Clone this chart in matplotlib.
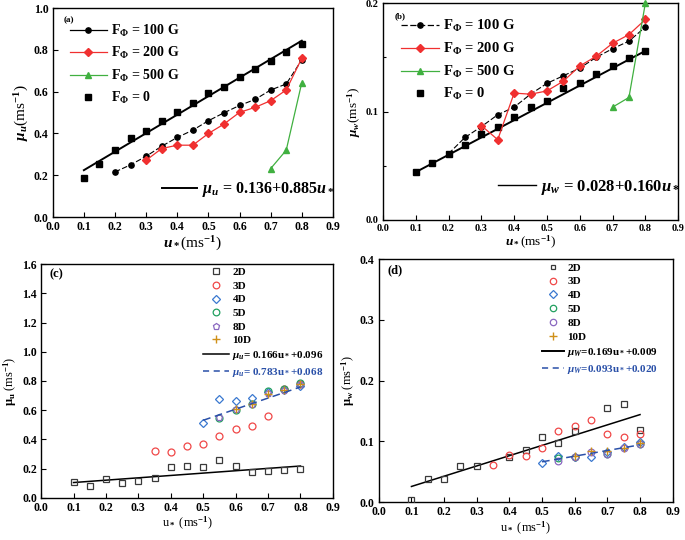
import matplotlib
matplotlib.use('Agg')
import matplotlib.pyplot as plt
from matplotlib.lines import Line2D
from matplotlib.ticker import FormatStrFormatter, MultipleLocator
import numpy as np

plt.rcParams['font.family'] = ['Liberation Serif', 'DejaVu Serif']
plt.rcParams['font.weight'] = 'bold'
plt.rcParams['mathtext.fontset'] = 'custom'
plt.rcParams['mathtext.rm'] = 'Liberation Serif:bold'
plt.rcParams['mathtext.it'] = 'Liberation Serif:italic:bold'
plt.rcParams['mathtext.bf'] = 'Liberation Serif:bold'
plt.rcParams['xtick.direction'] = 'in'
plt.rcParams['ytick.direction'] = 'in'
plt.rcParams['axes.linewidth'] = 1.0

# ---------------- data ----------------
u_all = [0.1, 0.15, 0.2, 0.25, 0.3, 0.35, 0.4, 0.45, 0.5, 0.55, 0.6, 0.65, 0.7, 0.75, 0.8]
u_from02 = [0.2, 0.25, 0.3, 0.35, 0.4, 0.45, 0.5, 0.55, 0.6, 0.65, 0.7, 0.75, 0.8]
u_from03 = [0.3, 0.35, 0.4, 0.45, 0.5, 0.55, 0.6, 0.65, 0.7, 0.75, 0.8]
u_500 = [0.7, 0.75, 0.8]

# panel (a): mu_u
a_f0 = [0.187, 0.256, 0.32, 0.379, 0.411, 0.461, 0.504, 0.544, 0.592, 0.624, 0.669, 0.709, 0.747, 0.789, 0.827]
a_100 = [0.216, 0.25, 0.291, 0.339, 0.381, 0.416, 0.461, 0.499, 0.534, 0.563, 0.608, 0.637, 0.752]
a_200 = [0.272, 0.328, 0.344, 0.344, 0.4, 0.445, 0.501, 0.525, 0.557, 0.608, 0.76]
a_500 = [0.232, 0.32, 0.643]
a_fit = (0.136, 0.885)

# panel (b): mu_w
b_f0 = [0.044, 0.052, 0.061, 0.069, 0.079, 0.086, 0.095, 0.104, 0.110, 0.122, 0.126, 0.135, 0.142, 0.149, 0.156]
b_100 = [0.061, 0.076, 0.086, 0.097, 0.104, 0.116, 0.126, 0.133, 0.140, 0.150, 0.158, 0.165, 0.178]
b_200 = [0.087, 0.074, 0.117, 0.116, 0.119, 0.128, 0.142, 0.151, 0.163, 0.171, 0.185]
b_500 = [0.104, 0.113, 0.2]
b_fit = (0.028, 0.160)

# panel (c): mu_u vs height
c_2D_x = u_all
c_2D = [0.106, 0.081, 0.127, 0.099, 0.118, 0.136, 0.209, 0.218, 0.213, 0.258, 0.218, 0.174, 0.184, 0.19, 0.197]
c_3D_x = [0.35, 0.4, 0.45, 0.5, 0.55, 0.6, 0.65, 0.7, 0.75, 0.8]
c_3D = [0.322, 0.313, 0.354, 0.372, 0.424, 0.47, 0.49, 0.559, 0.747, 0.781]
c_4D_x = [0.5, 0.55, 0.6, 0.65, 0.7, 0.75, 0.8]
c_4D = [0.513, 0.679, 0.663, 0.686, 0.724, 0.74, 0.763]
c_5D_x = [0.55, 0.6, 0.65, 0.7, 0.75, 0.8]
c_5D = [0.549, 0.604, 0.64, 0.731, 0.747, 0.786]
c_8D_x = [0.55, 0.6, 0.65, 0.7, 0.75, 0.8]
c_8D = [0.554, 0.606, 0.64, 0.718, 0.74, 0.777]
c_10D_x = [0.6, 0.65, 0.7, 0.75, 0.8]
c_10D = [0.606, 0.645, 0.713, 0.736, 0.777]
c_line1_x = [0.1, 0.8]
c_line1_y = [0.105, 0.218]
c_line2_x = [0.5, 0.8]
c_line2_y = [0.531, 0.759]

# panel (d): mu_w vs height
d_2D_x = [0.1, 0.15, 0.2, 0.25, 0.3, 0.4, 0.45, 0.5, 0.55, 0.6, 0.7, 0.75, 0.8]
d_2D = [0.004, 0.039, 0.0385, 0.06, 0.06, 0.074, 0.086, 0.107, 0.098, 0.117, 0.155, 0.162, 0.1195]
d_3D_x = [0.35, 0.4, 0.45, 0.5, 0.55, 0.6, 0.65, 0.7, 0.75, 0.8]
d_3D = [0.0615, 0.077, 0.0765, 0.089, 0.118, 0.125, 0.136, 0.112, 0.108, 0.113]
d_4D_x = [0.5, 0.55, 0.6, 0.65, 0.7, 0.75, 0.8]
d_4D = [0.065, 0.0765, 0.075, 0.074, 0.082, 0.0905, 0.099]
d_5D_x = [0.55, 0.6, 0.7, 0.8]
d_5D = [0.0726, 0.075, 0.080, 0.095]
d_8D_x = [0.55, 0.6, 0.65, 0.7, 0.75, 0.8]
d_8D = [0.068, 0.074, 0.082, 0.079, 0.089, 0.096]
d_10D_x = [0.6, 0.65, 0.7, 0.75, 0.8]
d_10D = [0.0765, 0.084, 0.084, 0.089, 0.097]
d_fit1 = (0.169, 0.009)
d_fit2 = (0.093, 0.020)

x_ticks = [0.0, 0.1, 0.2, 0.3, 0.4, 0.5, 0.6, 0.7, 0.8, 0.9]

C_RED = '#f03030'
C_GREEN = '#40b040'
H_COLS = {'2D': '#3a3a3a', '3D': '#f04848', '4D': '#3a78d0', '5D': '#22a060',
          '8D': '#8a68c0', '10D': '#d09018'}
C_FITBLUE = '#2a50a8'

fig = plt.figure(figsize=(6.85, 5.4), dpi=100)
axA = fig.add_axes([0.077, 0.598, 0.409, 0.387])
axB = fig.add_axes([0.559, 0.593, 0.431, 0.401])
axC = fig.add_axes([0.060, 0.078, 0.426, 0.433])
axD = fig.add_axes([0.553, 0.070, 0.429, 0.450])


def style(ax, ylim, ystep, ylabel, xlabel, tfs=8.5, lfs=10, yminor=None):
    ax.set_xlim(0, 0.9)
    ax.set_ylim(*ylim)
    ax.set_xticks(x_ticks)
    ax.yaxis.set_major_locator(MultipleLocator(ystep))
    if yminor:
        ax.yaxis.set_minor_locator(MultipleLocator(yminor))
        ax.tick_params(axis='y', which='minor', direction='in', length=2.5, width=0.8)
    ax.xaxis.set_major_formatter(FormatStrFormatter('%.1f'))
    ax.yaxis.set_major_formatter(FormatStrFormatter('%.1f'))
    ax.tick_params(axis='x', which='major', length=3.5, width=0.8, labelsize=tfs, pad=3)
    ax.tick_params(axis='y', which='major', length=3.5, width=0.8, labelsize=tfs, pad=3)
    for lab in ax.get_xticklabels() + ax.get_yticklabels():
        lab.set_fontweight('bold')
    ax.set_ylabel(ylabel, fontsize=lfs, labelpad=2)
    ax.set_xlabel(xlabel, fontsize=lfs, labelpad=1)


# ---------------- (a) ----------------
ua = np.array(u_all)
axA.plot(ua, a_fit[0] + a_fit[1] * ua, color='black', lw=1.4, zorder=2)
axA.plot(u_all, a_f0, 's', color='black', ms=4.5, zorder=3)
axA.plot(u_from02, a_100, '--', color='black', marker='o', ms=3.8, lw=0.8, dashes=(5, 2), zorder=4)
axA.plot(u_from03, a_200, '-', color=C_RED, marker='D', ms=3.8, lw=0.9, zorder=4)
axA.plot(u_500, a_500, '-', color=C_GREEN, marker='^', ms=4.5, lw=0.9, zorder=4)
style(axA, (0, 1.0), 0.2, r'$\mu_u$(ms$^{-1}$)', r'$u_*$(ms$^{-1}$)', tfs=8.5, lfs=11)
axA.text(0.04, 0.94, '(a)', transform=axA.transAxes, fontsize=6.5, fontweight='bold', va='center')

hA = [Line2D([], [], color='black', marker='o', ms=3.8, lw=0.9),
      Line2D([], [], color=C_RED, marker='D', ms=3.8, lw=0.9),
      Line2D([], [], color=C_GREEN, marker='^', ms=4.5, lw=0.9),
      Line2D([], [], color='black', marker='s', ms=4.5, lw=0)]
labsA = [r'F$_\mathbf{\Phi}$ = 100 G', r'F$_\mathbf{\Phi}$ = 200 G', r'F$_\mathbf{\Phi}$ = 500 G', r'F$_\mathbf{\Phi}$ = 0']
legA = axA.legend(hA, labsA, loc='upper left', bbox_to_anchor=(0.06, 0.93), frameon=False,
                  fontsize=10, handlelength=2.7, handletextpad=0.3, labelspacing=0.45,
                  borderpad=0, borderaxespad=0)
axA.add_artist(legA)
legA2 = axA.legend([Line2D([], [], color='black', lw=1.4)], [r'$\mu_u$ = 0.136+0.885$u_*$'],
                   loc='center left', bbox_to_anchor=(0.39, 0.13), frameon=False, fontsize=11.5,
                   handlelength=2.2, handletextpad=0.3, borderpad=0, borderaxespad=0)

# ---------------- (b) ----------------
axB.plot(ua, b_fit[0] + b_fit[1] * ua, color='black', lw=1.4, zorder=2)
axB.plot(u_all, b_f0, 's', color='black', ms=4.5, zorder=3)
axB.plot(u_from02, b_100, '--', color='black', marker='o', ms=3.8, lw=0.8, dashes=(5, 2), zorder=4)
axB.plot(u_from03, b_200, '-', color=C_RED, marker='D', ms=3.8, lw=0.9, zorder=4)
axB.plot(u_500, b_500, '-', color=C_GREEN, marker='^', ms=4.5, lw=0.9, zorder=4, clip_on=False)
style(axB, (0, 0.2), 0.1, r'$\mu_w$(ms$^{-1}$)', r'$u_*$(ms$^{-1}$)', tfs=7.5, lfs=9.5, yminor=0.05)
axB.text(0.04, 0.94, '(b)', transform=axB.transAxes, fontsize=6.5, fontweight='bold', va='center')
hB = [Line2D([], [], color='black', marker='o', ms=3.8, lw=0.9, ls='--', dashes=(5, 2)),
      Line2D([], [], color=C_RED, marker='D', ms=3.8, lw=0.9),
      Line2D([], [], color=C_GREEN, marker='^', ms=4.5, lw=0.9),
      Line2D([], [], color='black', marker='s', ms=4.5, lw=0)]
legB = axB.legend(hB, labsA, loc='upper left', bbox_to_anchor=(0.06, 0.93), frameon=False,
                  fontsize=10.5, handlelength=2.6, handletextpad=0.3, labelspacing=0.45,
                  borderpad=0, borderaxespad=0)
axB.add_artist(legB)
axB.legend([Line2D([], [], color='black', lw=1.0)], [r'$\mu_w$ = 0.028+0.160$u_*$'],
           loc='center left', bbox_to_anchor=(0.39, 0.15), frameon=False, fontsize=12,
           handlelength=2.3, handletextpad=0.3, borderpad=0, borderaxespad=0)


# ---------------- (c) & (d) ----------------
def height_series(ax, series, ms, lms):
    handles = []
    for name, xs, ys, mk, extra in series:
        col = H_COLS[name]
        if mk == '+':
            ax.plot(xs, ys, '+', color=col, ms=ms + 1, mew=1.0, zorder=4)
            handles.append(Line2D([], [], marker='+', color=col, ms=lms + 1, mew=1.0, lw=0))
        else:
            ax.plot(xs, ys, mk, mfc='none', mec=col, ms=ms * extra, mew=0.9, zorder=4)
            handles.append(Line2D([], [], marker=mk, mfc='none', mec=col, ms=lms * extra, mew=0.9, lw=0))
    return handles


seriesC = [('2D', c_2D_x, c_2D, 's', 0.85), ('3D', c_3D_x, c_3D, 'o', 1.0),
           ('4D', c_4D_x, c_4D, 'D', 0.9), ('5D', c_5D_x, c_5D, 'o', 1.0),
           ('8D', c_8D_x, c_8D, 'p', 1.0), ('10D', c_10D_x, c_10D, '+', 1.0)]
axC.plot(c_line1_x, c_line1_y, '-', color='black', lw=1.1, zorder=3)
axC.plot(c_line2_x, c_line2_y, '--', color=C_FITBLUE, lw=1.1, dashes=(5, 3), zorder=5)
hC = height_series(axC, seriesC, 5.0, 4.8)
style(axC, (0, 1.6), 0.2, r'$\mathbf{\mu_u}$ (ms$^{-1}$)', r'u$_*$ (ms$^{-1}$)', tfs=8.5, lfs=9)
axC.text(0.03, 0.955, '(c)', transform=axC.transAxes, fontsize=9, fontweight='bold', va='center')
hC += [Line2D([], [], color='black', lw=1.1), Line2D([], [], color=C_FITBLUE, lw=1.1, ls='--', dashes=(4, 3))]
labsC = ['2D', '3D', '4D', '5D', '8D', '10D', r'$\mu_u$= 0.166u$_*$+0.096', r'$\mu_u$= 0.783u$_*$+0.068']
legC = axC.legend(hC, labsC, loc='upper left', bbox_to_anchor=(0.555, 0.985), frameon=False,
                  fontsize=8, handlelength=2.3, handletextpad=0.35, labelspacing=0.34,
                  borderpad=0, borderaxespad=0)
legC.get_texts()[-1].set_color(C_FITBLUE)

seriesD = [('2D', d_2D_x, d_2D, 's', 0.85), ('3D', d_3D_x, d_3D, 'o', 1.0),
           ('4D', d_4D_x, d_4D, 'D', 0.9), ('5D', d_5D_x, d_5D, 'o', 1.0),
           ('8D', d_8D_x, d_8D, 'o', 1.0), ('10D', d_10D_x, d_10D, '+', 1.0)]
ud1 = np.array([0.1, 0.8])
ud2 = np.array([0.5, 0.8])
axD.plot(ud1, d_fit1[0] * ud1 + d_fit1[1], '-', color='black', lw=1.1, zorder=3)
axD.plot(ud2, d_fit2[0] * ud2 + d_fit2[1], '--', color=C_FITBLUE, lw=1.1, dashes=(5, 3), zorder=5)
hD = height_series(axD, seriesD, 4.8, 4.6)
hD[0] = Line2D([], [], marker='s', mfc='none', mec=H_COLS['2D'], ms=3.2, mew=0.9, lw=0)
style(axD, (0, 0.4), 0.1, r'$\mathbf{\mu_w}$ (ms$^{-1}$)', r'u$_*$ (ms$^{-1}$)', tfs=8.5, lfs=9)
axD.text(0.03, 0.955, '(d)', transform=axD.transAxes, fontsize=9, fontweight='bold', va='center')
hD += [Line2D([], [], color='black', lw=1.4), Line2D([], [], color=C_FITBLUE, lw=1.1, ls='--', dashes=(4, 3))]
labsD = ['2D', '3D', '4D', '5D', '8D', '10D', r'$\mu_W$=0.169u$_*$+0.009', r'$\mu_W$=0.093u$_*$+0.020']
legD = axD.legend(hD, labsD, loc='upper left', bbox_to_anchor=(0.555, 0.985), frameon=False,
                  fontsize=8, handlelength=2.0, handletextpad=0.3, labelspacing=0.36,
                  borderpad=0, borderaxespad=0)
legD.get_texts()[-1].set_color(C_FITBLUE)

fig.savefig('out.png', dpi=100)
